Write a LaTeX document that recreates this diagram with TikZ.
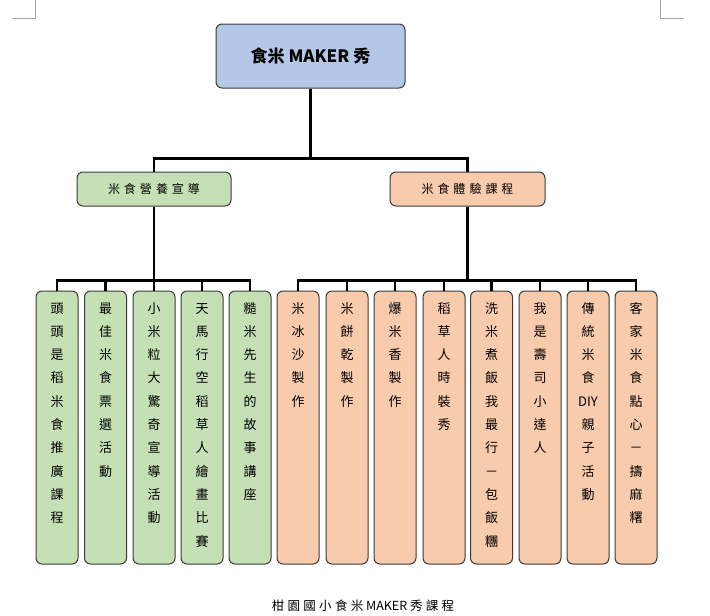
\documentclass[tikz,border=0pt]{standalone}
\usepackage{fontspec}
\setmainfont{Noto Sans CJK TC}
\definecolor{topfill}{HTML}{B4C7E7}
\definecolor{greenfill}{HTML}{C5E0B4}
\definecolor{orangefill}{HTML}{F8CBAD}
\definecolor{edge}{HTML}{3A3A3A}
\newcommand\vcol[1]{\parbox[c][273pt][t]{42pt}{\centering\fontsize{13pt}{23.3pt}\selectfont\rule{0pt}{22pt}#1\par}}
\tikzset{
  boxbase/.style={draw=edge, line width=1pt, rounded corners=6pt, inner sep=0pt, align=center},
  topbox/.style={boxbase, fill=topfill, minimum width=189pt, minimum height=64pt, font=\fontsize{17pt}{19pt}\selectfont\bfseries},
  midgreen/.style={boxbase, fill=greenfill, minimum width=154pt, minimum height=34pt, font=\fontsize{12pt}{14pt}\selectfont},
  midorange/.style={boxbase, fill=orangefill, minimum width=155pt, minimum height=34pt, font=\fontsize{12pt}{14pt}\selectfont},
  leafgreen/.style={boxbase, fill=greenfill},
  leaforange/.style={boxbase, fill=orangefill},
  conn/.style={line width=2.8pt, black},
  cornermark/.style={draw=gray!70, line width=0.8pt}
}
\newcommand\csp{\hspace{4pt}}
\begin{document}
\begin{tikzpicture}[x=1pt,y=-1pt]
\useasboundingbox (0,0) rectangle (710,616);
% page corner marks
\draw[cornermark] (35,0) -- (35,18) -- (12,18);
\draw[cornermark] (660,0) -- (660,18) -- (684,18);
% top
\node[topbox] (top) at (310.5,56) {食米 MAKER 秀};
% level 2
\node[midgreen] (L) at (154,189) {米\csp 食\csp 營\csp 養\csp 宣\csp 導};
\node[midorange] (R) at (467.5,189) {米\csp 食\csp 體\csp 驗\csp 課\csp 程};
% leaves
\node[leafgreen] (g1) at (57,427.5) {\vcol{頭\\頭\\是\\稻\\米\\食\\推\\廣\\課\\程}};
\node[leafgreen] (g2) at (105.5,427.5) {\vcol{最\\佳\\米\\食\\票\\選\\活\\動}};
\node[leafgreen] (g3) at (154,427.5) {\vcol{小\\米\\粒\\大\\驚\\奇\\宣\\導\\活\\動}};
\node[leafgreen] (g4) at (202,427.5) {\vcol{天\\馬\\行\\空\\稻\\草\\人\\繪\\畫\\比\\賽}};
\node[leafgreen] (g5) at (250,427.5) {\vcol{糙\\米\\先\\生\\的\\故\\事\\講\\座}};
\node[leaforange] (o1) at (298,427.5) {\vcol{米\\冰\\沙\\製\\作}};
\node[leaforange] (o2) at (347,427.5) {\vcol{米\\餅\\乾\\製\\作}};
\node[leaforange] (o3) at (395,427.5) {\vcol{爆\\米\\香\\製\\作}};
\node[leaforange] (o4) at (444,427.5) {\vcol{稻\\草\\人\\時\\裝\\秀}};
\node[leaforange] (o5) at (491.5,427.5) {\vcol{洗\\米\\煮\\飯\\我\\最\\行\\－\\包\\飯\\糰}};
\node[leaforange] (o6) at (540,427.5) {\vcol{我\\是\\壽\\司\\小\\達\\人}};
\node[leaforange] (o7) at (588,427.5) {\vcol{傳\\統\\米\\食\\DIY\\親\\子\\活\\動}};
\node[leaforange] (o8) at (636,427.5) {\vcol{客\\家\\米\\食\\點\\心\\－\\擣\\麻\\糬}};
% connectors
\draw[conn] (top.south) -- ++(0,70) -| (L.north);
\draw[conn] (top.south) -- ++(0,70) -| (R.north);
\foreach \c in {g1,g2,g3,g4,g5}{\draw[conn] (L.south) -- ++(0,74) -| (\c.north);}
\foreach \c in {o1,o2,o3,o4,o5,o6,o7,o8}{\draw[conn] (R.south) -- ++(0,74) -| (\c.north);}
% caption
\node[font=\fontsize{12.5pt}{14pt}\selectfont] (cap) at (363,606) {柑\hspace{3.3pt}園\hspace{3.3pt}國\hspace{3.3pt}小\hspace{3.3pt}食\hspace{3.3pt}米 MAKER 秀\hspace{3.3pt}課\hspace{3.3pt}程};
\end{tikzpicture}
\end{document}
